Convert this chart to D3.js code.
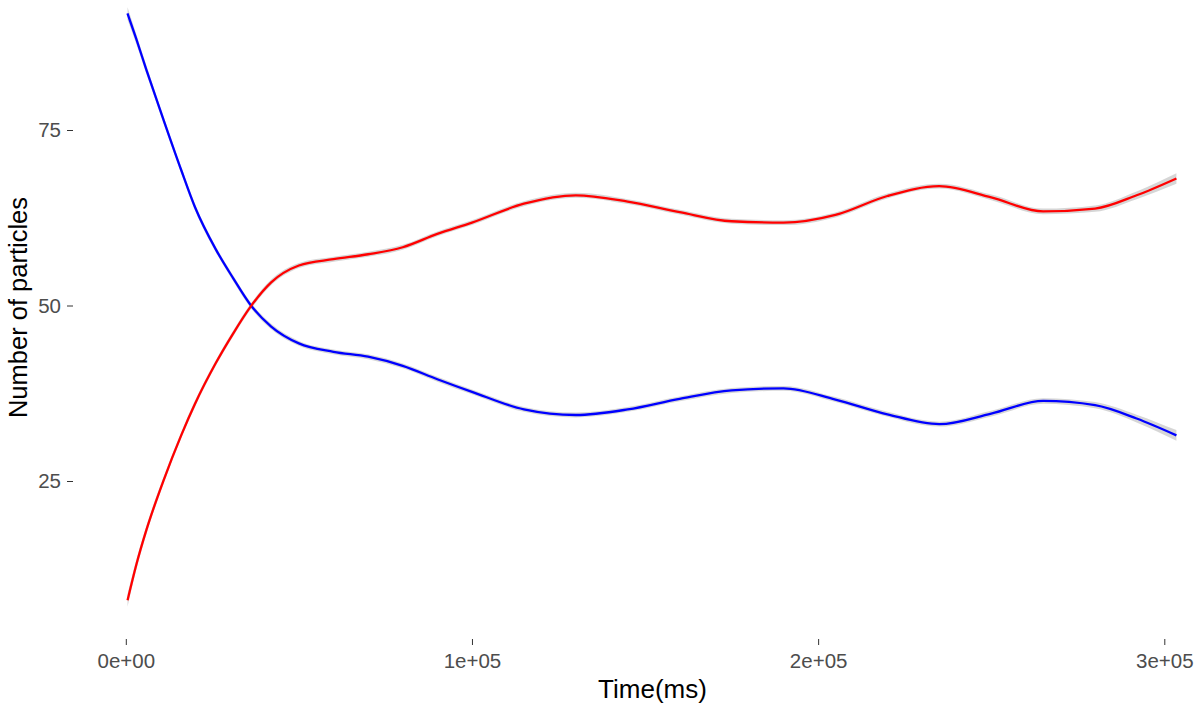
<!DOCTYPE html>
<html>
<head>
<meta charset="utf-8">
<script src="https://cdn.jsdelivr.net/npm/d3@7"></script>
<style>
  body { margin: 0; background: #fff; }
  svg { display: block; font-family: "Liberation Sans", Arial, sans-serif; }
</style>
</head>
<body>
<div id="chart"></div>
<script>
// smoothed particle counts
var timeMs = [500, 3000, 6000, 11000, 16000, 20000, 26000, 31000, 36000, 42000,
	50000, 60000, 70000, 80000, 90000, 100000, 115000, 130000, 145000, 160000,
	175000, 190000, 205000, 220000, 235000, 250000, 265000, 280000, 292000, 303500];

var blueCount = [91.6, 88.0, 83.5, 76.3, 69.3, 64.0, 58.0, 53.9, 50.1, 47.0,
	44.6, 43.4, 42.7, 41.4, 39.5, 37.7, 35.2, 34.4, 35.2, 36.7,
	37.9, 38.2, 36.6, 34.5, 33.1, 34.6, 36.4, 35.8, 33.9, 31.5];

var redCount = [8.0, 13.0, 18.1, 25.2, 31.5, 36.0, 41.8, 46.0, 49.8, 53.3,
	55.7, 56.6, 57.3, 58.3, 60.2, 61.8, 64.5, 65.7, 64.8, 63.3,
	62.0, 61.8, 62.9, 65.6, 67.0, 65.4, 63.4, 63.8, 65.7, 68.1];

// half width of the grey confidence band
var bandHalf = [0.9, 0.7, 0.6, 0.5, 0.45, 0.45, 0.4, 0.4, 0.4, 0.4,
	0.35, 0.35, 0.35, 0.35, 0.35, 0.35, 0.35, 0.35, 0.35, 0.35,
	0.35, 0.35, 0.35, 0.35, 0.35, 0.4, 0.4, 0.45, 0.55, 0.75];

var xTicks = [0, 100000, 200000, 300000];
var xTickLabels = ["0e+00", "1e+05", "2e+05", "3e+05"];
var yTicks = [25, 50, 75];

function drawChart(sel) {
	let width = 1202;
	let height = 708;
	let panelLeft = 73;
	let panelBottom = 639;

	var svg = d3.select(sel)
		.append("svg")
		.attr("width", width)
		.attr("height", height)
		.attr("viewBox", [0, 0, width, height]);

	svg.append("rect").attr("width", width).attr("height", height).attr("fill", "#fff");

	var x = d3.scaleLinear().domain([0, 300000]).range([125.8, 1164.3]);
	var y = d3.scaleLinear().domain([25, 75]).range([481, 130]);

	var series = [
		{ name: "blue", color: "#0000ff", values: blueCount },
		{ name: "red", color: "#ff0000", values: redCount }
	];

	var area = d3.area()
		.curve(d3.curveMonotoneX)
		.x(function (d) { return x(d.t); })
		.y0(function (d) { return y(d.v - d.se); })
		.y1(function (d) { return y(d.v + d.se); });

	var line = d3.line()
		.curve(d3.curveMonotoneX)
		.x(function (d) { return x(d.t); })
		.y(function (d) { return y(d.v); });

	series.forEach(function (s) {
		s.points = timeMs.map(function (t, i) {
			return { t: t, v: s.values[i], se: bandHalf[i] };
		});
	});

	// bands first, then lines on top
	svg.append("g")
		.selectAll("path")
		.data(series)
		.enter()
		.append("path")
		.attr("d", function (d) { return area(d.points); })
		.style("fill", "#999999")
		.style("fill-opacity", 0.4);

	svg.append("g")
		.selectAll("path")
		.data(series)
		.enter()
		.append("path")
		.attr("d", function (d) { return line(d.points); })
		.style("fill", "none")
		.style("stroke", function (d) { return d.color; })
		.style("stroke-width", "2.3px");

	// axes
	var xAxis = svg.append("g")
		.attr("transform", "translate(0," + panelBottom + ")")
		.call(d3.axisBottom(x)
			.tickValues(xTicks)
			.tickFormat(function (d, i) { return xTickLabels[i]; })
			.tickSize(6)
			.tickPadding(8));

	var yAxis = svg.append("g")
		.attr("transform", "translate(" + panelLeft + ",0)")
		.call(d3.axisLeft(y)
			.tickValues(yTicks)
			.tickSize(6)
			.tickPadding(6));

	[xAxis, yAxis].forEach(function (g) {
		g.select(".domain").remove();
		g.selectAll(".tick line").attr("stroke", "#333333").attr("stroke-width", 1);
		g.selectAll(".tick text")
			.attr("fill", "#4d4d4d")
			.style("font-size", "20.5px")
			.style("font-family", "'Liberation Sans', Arial, sans-serif");
	});

	svg.append("text")
		.attr("x", 652.5)
		.attr("y", 698)
		.attr("text-anchor", "middle")
		.style("font-size", "26px")
		.attr("fill", "#000")
		.text("Time(ms)");

	svg.append("text")
		.attr("transform", "translate(27,307.5) rotate(-90)")
		.attr("text-anchor", "middle")
		.style("font-size", "25.5px")
		.attr("fill", "#000")
		.text("Number of particles");
}

drawChart("#chart");
</script>
</body>
</html>
